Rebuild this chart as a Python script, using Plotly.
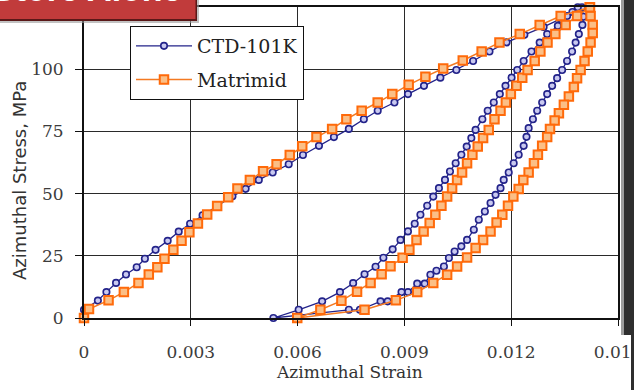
import plotly.graph_objects as go

# ---------------- data ----------------
# CTD-101K : loading branch, unloading branch, reloading branch
ctd_load_strain = [0, 0.00039, 0.00063, 0.00090, 0.00118, 0.00148, 0.00171, 0.00201, 0.00235, 0.00266,
                   0.00298, 0.00333, 0.00375, 0.00417, 0.00454, 0.00491, 0.00530, 0.00575, 0.00615, 0.00660,
                   0.00702, 0.00744, 0.00786, 0.00825, 0.00872, 0.00910, 0.00955, 0.01001, 0.01046, 0.01093,
                   0.01139, 0.01187, 0.01237, 0.01291, 0.01339, 0.01372, 0.01399]
ctd_load_stress = [3.3, 7.0, 10.4, 14.1, 17.5, 20.4, 23.8, 27.4, 31.0, 34.7,
                   37.9, 41.3, 45.1, 48.9, 51.9, 55.5, 58.5, 61.8, 65.5, 69.2,
                   72.7, 76.0, 79.9, 83.3, 86.6, 90.0, 93.3, 96.6, 99.7, 103.3,
                   107.1, 110.8, 113.8, 117.0, 120.2, 123.0, 124.9]
ctd_unload_strain = [0.01403, 0.01400, 0.01390, 0.01381, 0.01371, 0.01357, 0.01343, 0.01329, 0.01315, 0.01301,
                     0.01287, 0.01273, 0.01261, 0.01249, 0.01243, 0.01235, 0.01221, 0.01207, 0.01193, 0.01179,
                     0.01170, 0.01156, 0.01142, 0.01126, 0.01109, 0.01095, 0.01076, 0.01060, 0.01041, 0.01025,
                     0.01011, 0.00990, 0.00973, 0.00957, 0.00936, 0.00910, 0.00892, 0.00853, 0.00833, 0.00775,
                     0.00744, 0.00532]
ctd_unload_stress = [121.1, 117.8, 114.1, 110.7, 107.1, 103.3, 99.7, 96.4, 93.3, 90.0,
                     86.6, 83.3, 79.9, 76.3, 72.8, 69.2, 65.6, 62.2, 58.5, 55.5,
                     52.2, 49.5, 46.2, 42.8, 39.5, 35.5, 31.4, 28.8, 26.7, 24.1,
                     20.7, 19.0, 17.4, 13.8, 13.8, 10.4, 10.4, 6.7, 6.7, 3.3,
                     3.3, 0]
ctd_reload_strain = [0.00603, 0.00669, 0.00719, 0.00756, 0.00788, 0.00819, 0.00841, 0.00867, 0.00889, 0.00910,
                     0.00929, 0.00945, 0.00964, 0.00981, 0.00997, 0.01014, 0.01028, 0.01044, 0.01060, 0.01075,
                     0.01088, 0.01100, 0.01119, 0.01134, 0.01151, 0.01168, 0.01184, 0.01201, 0.01217, 0.01235,
                     0.01257, 0.01280, 0.01301, 0.01331, 0.01357, 0.01387]
ctd_reload_stress = [3.3, 6.7, 10.4, 14.0, 17.6, 20.6, 24.2, 27.6, 31.4, 34.8,
                     37.9, 41.5, 45.1, 48.8, 52.2, 55.5, 58.9, 62.2, 65.6, 68.9,
                     72.3, 75.6, 79.9, 83.3, 86.6, 90.0, 93.3, 96.6, 99.7, 103.3,
                     107.1, 110.7, 114.1, 117.4, 121.4, 124.9]

# Matrimid : loading branch, unloading branch, reloading branch
mat_load_strain = [0, 0.00014, 0.00069, 0.00112, 0.00153, 0.00182, 0.00206, 0.00226, 0.00251, 0.00274,
                   0.00296, 0.00320, 0.00346, 0.00374, 0.00405, 0.00431, 0.00466, 0.00503, 0.00541, 0.00578,
                   0.00613, 0.00653, 0.00697, 0.00737, 0.00780, 0.00825, 0.00866, 0.00912, 0.00959, 0.01009,
                   0.01064, 0.01117, 0.01167, 0.01224, 0.01280, 0.01339, 0.01421]
mat_load_stress = [0, 3.6, 7.1, 10.4, 14.1, 17.5, 20.4, 23.8, 27.4, 31.0,
                   34.5, 38.0, 41.6, 45.0, 48.5, 52.0, 55.5, 59.0, 61.8, 65.5,
                   69.0, 72.7, 76.0, 79.9, 83.3, 86.6, 90.0, 93.7, 97.0, 100.3,
                   103.5, 107.1, 110.7, 114.1, 117.8, 121.4, 124.9]
mat_unload_strain = [0.01423, 0.01429, 0.01429, 0.01423, 0.01415, 0.01406, 0.01395, 0.01385, 0.01376, 0.01362,
                     0.01348, 0.01334, 0.01322, 0.01309, 0.01301, 0.01287, 0.01275, 0.01264, 0.01249, 0.01234,
                     0.01221, 0.01206, 0.01191, 0.01175, 0.01159, 0.01142, 0.01121, 0.01100, 0.01076, 0.01048,
                     0.01020, 0.00981, 0.00936, 0.00876, 0.00788, 0.00599]
mat_unload_stress = [121.4, 117.8, 114.5, 110.7, 107.1, 103.3, 99.7, 96.4, 92.8, 89.0,
                     85.7, 82.3, 79.4, 76.0, 72.7, 69.2, 65.6, 62.2, 58.5, 55.5,
                     51.8, 48.8, 45.1, 41.5, 38.4, 34.8, 31.4, 28.1, 24.3, 20.7,
                     17.4, 14.1, 10.4, 7.1, 3.3, 0]
mat_reload_strain = [0.00664, 0.00723, 0.00767, 0.00805, 0.00836, 0.00861, 0.00895, 0.00914, 0.00934, 0.00954,
                     0.00971, 0.00987, 0.01004, 0.01020, 0.01034, 0.01048, 0.01062, 0.01076, 0.01091, 0.01106,
                     0.01121, 0.01137, 0.01153, 0.01170, 0.01185, 0.01199, 0.01215, 0.01231, 0.01246, 0.01266,
                     0.01282, 0.01302, 0.01324, 0.01353, 0.01385, 0.01421]
mat_reload_stress = [3.3, 6.9, 10.6, 14.1, 17.6, 20.8, 24.2, 27.4, 31.4, 34.8,
                     38.2, 41.5, 45.1, 48.8, 52.2, 55.5, 58.5, 62.2, 65.6, 68.9,
                     72.3, 75.6, 79.9, 83.3, 86.6, 90.0, 93.3, 96.6, 99.7, 103.3,
                     107.1, 110.7, 114.1, 117.8, 121.4, 124.9]

series_names = ["CTD-101K", "Matrimid"]
x_tick_vals = [0, 0.003, 0.006, 0.009, 0.012, 0.015]
x_tick_text = ["0", "0.003", "0.006", "0.009", "0.012", "0.015"]
y_tick_vals = [0, 25, 50, 75, 100]
y_tick_text = ["0", "25", "50", "75", "100"]

# ---------------- figure ----------------
W, H = 634, 390
L, R, T, B = 84, 16, 7, 72
PW, PH = W - L - R, H - T - B


def px(xp):  # pixel -> paper x (for decorations only)
    return (xp - L) / PW


def py(yp):  # pixel -> paper y (for decorations only)
    return (H - B - yp) / PH


fig = go.Figure()
fig.add_trace(go.Scatter(
    x=ctd_load_strain + ctd_unload_strain + ctd_reload_strain,
    y=ctd_load_stress + ctd_unload_stress + ctd_reload_stress,
    mode="lines+markers", name=series_names[0], legendgroup="a",
    line=dict(color="#23238a", width=1.3),
    marker=dict(symbol="circle", size=6.5, color="#c9c9f0", line=dict(color="#23238a", width=1.6)),
    cliponaxis=False,
))
fig.add_trace(go.Scatter(
    x=mat_load_strain + mat_unload_strain + mat_reload_strain,
    y=mat_load_stress + mat_unload_stress + mat_reload_stress,
    mode="lines+markers", name=series_names[1], legendgroup="b",
    line=dict(color="#f47a22", width=1.5),
    marker=dict(symbol="square", size=8.5, color="#fbbf86", line=dict(color="#ff6a0a", width=2)),
    cliponaxis=False,
))

tick_font = dict(family="DejaVu Serif", size=17, color="#3c3c3c")
fig.update_xaxes(
    range=[0, 0.015], tickvals=x_tick_vals, ticktext=x_tick_text,
    showgrid=True, gridcolor="#2a2a2a", gridwidth=1, zeroline=False,
    showline=True, linecolor="#111", linewidth=2, mirror=True,
    ticks="outside", ticklen=6, tickcolor="#111", tickwidth=1.2,
    tickfont=tick_font, ticklabelstandoff=12, ticklabeloverflow="allow",
    automargin=False,
)
fig.update_yaxes(
    range=[0, 125], tickvals=y_tick_vals, ticktext=y_tick_text,
    showgrid=True, gridcolor="#2a2a2a", gridwidth=1, zeroline=False,
    showline=True, linecolor="#111", linewidth=2, mirror=True,
    ticks="outside", ticklen=7, tickcolor="#111", tickwidth=1.2,
    tickfont=tick_font, ticklabelstandoff=8, ticklabeloverflow="allow",
    automargin=False,
)

shapes = [
    # red banner at the top-left
    dict(type="rect", xref="paper", yref="paper", x0=px(0), x1=px(199), y0=py(23), y1=py(-2),
         fillcolor="#9a9a9a", line=dict(width=0), layer="above", opacity=0.6),
    dict(type="rect", xref="paper", yref="paper", x0=px(0), x1=px(197), y0=py(21), y1=py(-2),
         fillcolor="#5a1818", line=dict(width=0), layer="above"),
    dict(type="rect", xref="paper", yref="paper", x0=px(0), x1=px(195.5), y0=py(19), y1=py(-2),
         fillcolor="#c13b3b", line=dict(width=0), layer="above"),
    # dark frame strip on the right edge
    dict(type="rect", xref="paper", yref="paper", x0=px(621), x1=px(624), y0=py(335), y1=py(-2),
         fillcolor="#9c9c9c", line=dict(width=0), layer="above"),
    dict(type="rect", xref="paper", yref="paper", x0=px(624), x1=px(640), y0=py(335), y1=py(-2),
         fillcolor="#2e2e2e", line=dict(width=0), layer="above"),
    dict(type="rect", xref="paper", yref="paper", x0=px(631), x1=px(640), y0=py(395), y1=py(335),
         fillcolor="#2e2e2e", line=dict(width=0), layer="above"),
]

annotations = [
    dict(text="<b>Store Alone</b>", xref="paper", yref="paper", x=px(-10), y=py(10),
         xanchor="left", yanchor="bottom", showarrow=False,
         font=dict(family="Liberation Sans", size=34, color="white")),
    dict(text="Azimuthal Strain", xref="paper", yref="paper", x=px(349), y=py(372),
         xanchor="center", yanchor="middle", showarrow=False,
         font=dict(family="DejaVu Serif", size=17, color="#333")),
    dict(text="Azimuthal Stress, MPa", xref="paper", yref="paper", x=px(19), y=py(181),
         xanchor="center", yanchor="middle", showarrow=False, textangle=-90,
         font=dict(family="DejaVu Sans", size=18, color="#333")),
]

fig.update_layout(
    width=W, height=H,
    margin=dict(l=L, r=R, t=T, b=B, pad=0),
    paper_bgcolor="white", plot_bgcolor="white",
    showlegend=True,
    legend=dict(
        x=px(130), y=py(26), xanchor="left", yanchor="top",
        bgcolor="white", bordercolor="#111", borderwidth=1,
        font=dict(family="DejaVu Serif", size=19, color="#222"),
        traceorder="grouped", tracegroupgap=6, itemwidth=56,
    ),
    shapes=shapes, annotations=annotations,
)

fig.write_html("out.html")
